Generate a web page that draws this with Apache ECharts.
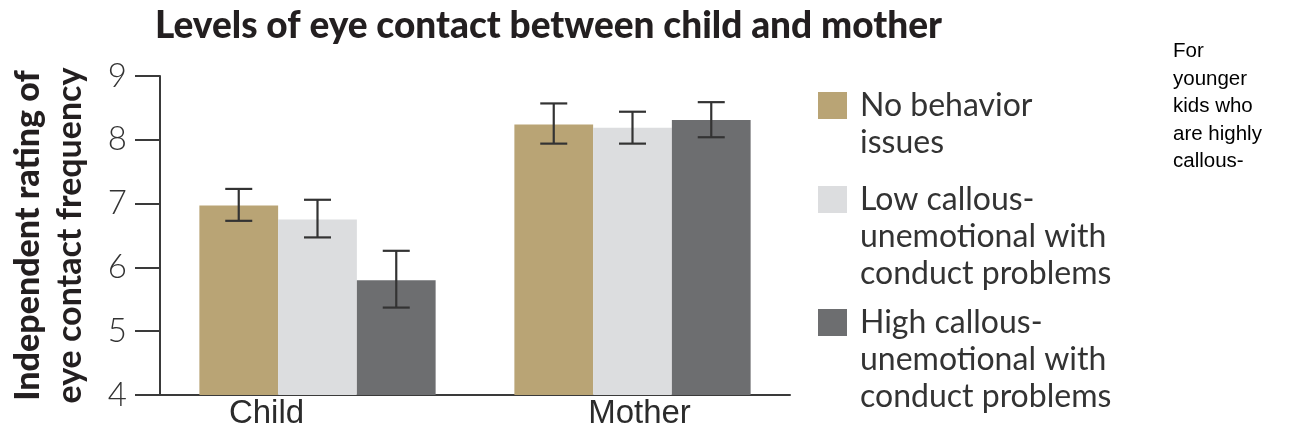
<!DOCTYPE html>
<html>
<head>
<meta charset="utf-8">
<script src="https://cdn.jsdelivr.net/npm/echarts@6/dist/echarts.min.js"></script>
<style>
html,body{margin:0;padding:0;background:#fff;}
#chart{width:1293px;height:438px;}
</style>
</head>
<body>
<div id="chart"></div>
<script>
// ---- data ----
const categories = ['Child', 'Mother'];
const seriesNames = ['No behavior\nissues', 'Low callous-\nunemotional with\nconduct problems', 'High callous-\nunemotional with\nconduct problems'];
const noBehavior = [6.97, 8.24];
const lowCU = [6.75, 8.19];
const highCU = [5.80, 8.31];
const noBehaviorErr = [[6.73, 7.23], [7.94, 8.57]];
const lowCUErr = [[6.47, 7.06], [7.94, 8.44]];
const highCUErr = [[5.37, 6.26], [8.04, 8.59]];
const yTicks = [4, 5, 6, 7, 8, 9];
const titleText = 'Levels of eye contact between child and mother';
const sideNote = 'For\nyounger\nkids who\nare highly\ncallous-';

const colors = ['#b9a475', '#dcdddf', '#6d6e70'];
const values = [noBehavior, lowCU, highCU];
const errs = [noBehaviorErr, lowCUErr, highCUErr];
const CAT_GAP = 0.25;

const chart = echarts.init(document.getElementById('chart'), null, {renderer: 'canvas'});

const barSeries = values.map((v, i) => ({
  name: seriesNames[i],
  type: 'bar',
  data: v,
  barGap: '0%',
  barCategoryGap: (CAT_GAP * 100) + '%',
  itemStyle: {color: colors[i]},
  silent: true,
  z: 2
}));

const errSeries = errs.map((e, i) => ({
  type: 'custom',
  silent: true,
  z: 5,
  data: e.map((d, k) => [k, d[0], d[1]]),
  encode: {x: 0, y: [1, 2]},
  renderItem: function (params, api) {
    const cat = api.value(0);
    const lo = api.coord([cat, api.value(1)]);
    const hi = api.coord([cat, api.value(2)]);
    const band = api.size([1, 0])[0];
    const bw = band * (1 - CAT_GAP) / 3;
    const x = lo[0] + (i - 1) * bw;
    const cap = 13.5;
    const style = {stroke: '#333333', lineWidth: 2.2, fill: null};
    return {
      type: 'group',
      children: [
        {type: 'line', shape: {x1: x, y1: hi[1], x2: x, y2: lo[1]}, style: style},
        {type: 'line', shape: {x1: x - cap, y1: hi[1], x2: x + cap, y2: hi[1]}, style: style},
        {type: 'line', shape: {x1: x - cap, y1: lo[1], x2: x + cap, y2: lo[1]}, style: style}
      ]
    };
  }
}));

const LEG_LH = 37;
const iconCenters = [105.5, 199.5, 322.5];
const legends = seriesNames.map((n, i) => {
  const lines = n.split('\n');
  const pre = lines.length - 1;
  const total = pre + lines.length;
  return {
    orient: 'vertical',
    left: 818,
    top: iconCenters[i] - total * LEG_LH / 2,
    padding: 0,
    itemWidth: 29,
    itemHeight: 27,
    itemGap: 0,
    selectedMode: false,
    icon: 'rect',
    data: [{name: n, itemStyle: {color: colors[i]}}],
    formatter: function (name) {
      const ls = name.split('\n');
      const out = [];
      for (let k = 0; k < ls.length - 1; k++) out.push('{e|}');
      ls.forEach(l => out.push('{t|' + l + '}'));
      return out.join('\n');
    },
    textStyle: {
      fontFamily: 'Lato',
      fontSize: 32,
      lineHeight: LEG_LH,
      color: '#333333',
      rich: {
        t: {fontFamily: 'Lato', fontSize: 32, lineHeight: LEG_LH, color: '#333333', padding: [0, 0, 0, 8]},
        e: {fontSize: 32, lineHeight: LEG_LH}
      }
    }
  };
});

chart.setOption({
  animation: false,
  title: [
    {
      text: titleText,
      left: 155,
      top: 8,
      padding: 0,
      textStyle: {fontFamily: 'Lato', fontWeight: 900, fontSize: 37, color: '#231f20'}
    },
    {
      text: sideNote,
      left: 1173,
      top: 38,
      padding: 0,
      textStyle: {fontFamily: 'Liberation Sans', fontWeight: 'normal', fontSize: 20.5, lineHeight: 27.5, color: '#000000'}
    }
  ],
  legend: legends,
  grid: {left: 160, top: 76, width: 630, bottom: 43, containLabel: false},
  xAxis: {
    type: 'category',
    data: categories,
    axisLine: {show: true, lineStyle: {color: '#3a3a3a', width: 2}},
    axisTick: {show: false},
    axisLabel: {
      margin: 2,
      color: '#333333',
      fontFamily: 'Liberation Sans',
      fontSize: 33,
      formatter: function (v) { return v === 'Child' ? '{c|' + v + '}' : '{m|' + v + '}'; },
      rich: {
        c: {fontFamily: 'Liberation Sans', fontSize: 33, color: '#2b2b2b', padding: [0, 102, 0, 0]},
        m: {fontFamily: 'Liberation Sans', fontSize: 33, color: '#2b2b2b', padding: [0, 0, 0, 14]}
      }
    }
  },
  yAxis: {
    type: 'value',
    min: yTicks[0],
    max: yTicks[yTicks.length - 1],
    interval: 1,
    splitLine: {show: false},
    axisLine: {show: true, lineStyle: {color: '#3a3a3a', width: 2}},
    axisTick: {show: true, inside: false, length: 25, lineStyle: {color: '#3a3a3a', width: 2}},
    axisLabel: {margin: 33, color: '#333333', fontFamily: 'Lato', fontWeight: 300, fontSize: 33},
    name: '{a|Independent rating of}\n{b|eye contact frequency}',
    nameLocation: 'middle',
    nameRotate: 90,
    nameGap: 69,
    nameMoveOverlap: false,
    nameTextStyle: {
      rich: {
        a: {fontFamily: 'Lato', fontWeight: 900, fontSize: 34, lineHeight: 42, color: '#231f20'},
        b: {fontFamily: 'Lato', fontWeight: 'bold', fontSize: 34, lineHeight: 42, color: '#231f20'}
      }
    }
  },
  series: barSeries.concat(errSeries)
});
</script>
</body>
</html>
